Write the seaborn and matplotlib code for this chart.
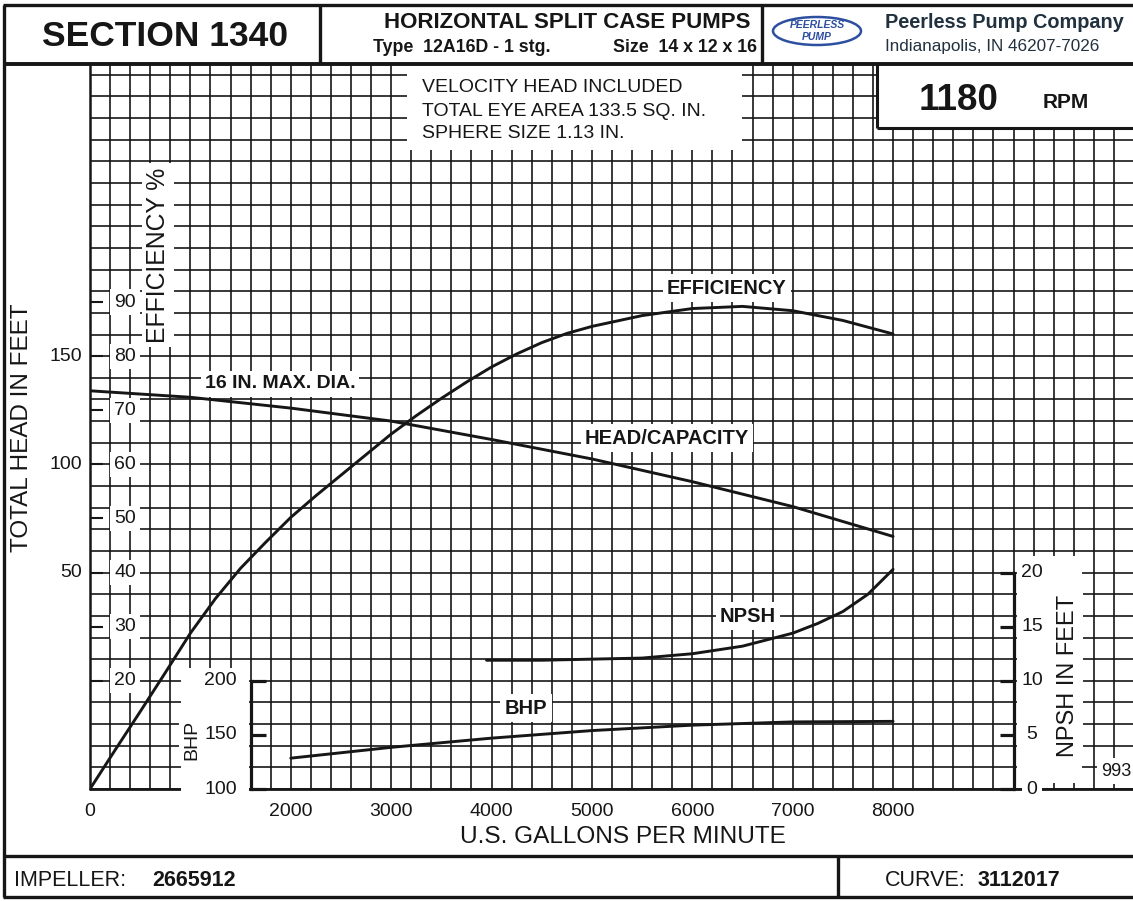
import numpy as np
import matplotlib
matplotlib.use("Agg")
import matplotlib.pyplot as plt
import seaborn as sns
from matplotlib.patches import Rectangle, Ellipse
from matplotlib.lines import Line2D
from matplotlib.transforms import blended_transform_factory as blend

# curves (U.S. gpm)
head_gpm = [0, 1000, 2000, 3000, 4000, 5000, 6000, 7000, 8000]
head_ft = [134, 131, 126, 120, 111.5, 102.5, 92, 80.5, 66.7]

eff_gpm = [0, 250, 500, 750, 1000, 1250, 1500, 1750, 2000, 2250, 2500, 2750,
           3000, 3250, 3500, 3750, 4000, 4250, 4500, 4750, 5000, 5500, 6000,
           6500, 7000, 7500, 8000]
eff_pct = [0, 7.2, 14.3, 21.5, 28.8, 35.2, 40.8, 45.6, 50.2, 54.2, 58, 61.8,
           65.6, 69, 72.2, 75.2, 78, 80.4, 82.5, 84.2, 85.5, 87.5, 88.8,
           89.2, 88.4, 86.6, 84.1]

npsh_gpm = [3950, 4500, 5000, 5500, 6000, 6500, 7000, 7250, 7500, 7750, 8000]
npsh_ft = [11.9, 11.9, 12.0, 12.1, 12.5, 13.2, 14.4, 15.3, 16.4, 18.0, 20.3]

bhp_gpm = [2000, 3000, 4000, 5000, 6000, 7000, 8000]
bhp_hp = [128.5, 138.5, 147, 154, 159, 162, 162.5]

# axis labels
gpm_ticks = [0, 2000, 3000, 4000, 5000, 6000, 7000, 8000]
head_ticks = [50, 100, 150]
eff_ticks = [20, 30, 40, 50, 60, 70, 80, 90]
npsh_ticks = [0, 5, 10, 15, 20]
bhp_ticks = [100, 150, 200]

sns.set_style("white")
plt.rcParams["font.family"] = ["Liberation Sans", "DejaVu Sans"]
INK = "#161616"

W, H = 1133, 901
fig = plt.figure(figsize=(W / 100, H / 100), dpi=100)
fig.patch.set_facecolor("white")


def fx(x):
    return x / W


def fy(y):
    return 1 - y / H


# grid area in pixels
X0, X1, Y0, Y1 = 90, 1133, 64, 789
ax = fig.add_axes([fx(X0), fy(Y1), (X1 - X0) / W, (Y1 - Y0) / H])
ax_b = ax.twinx()
ax_n = ax.twinx()
ax_e = ax.twinx()

sns.lineplot(x=head_gpm, y=head_ft, ax=ax, color=INK, lw=2.1, zorder=4)
sns.lineplot(x=eff_gpm, y=eff_pct, ax=ax_e, color=INK, lw=2.1)
sns.lineplot(x=npsh_gpm, y=npsh_ft, ax=ax_n, color=INK, lw=2.1)
sns.lineplot(x=bhp_gpm, y=bhp_hp, ax=ax_b, color=INK, lw=2.1)

# all scales share one sheet: head -50..285 ft
HLO, HHI = -50, 285
ax.set_xlim(0, 10390)
ax.set_ylim(HLO, HHI)
ax_e.set_ylim((HLO + 50) / 2.5, (HHI + 50) / 2.5)
ax_n.set_ylim((HLO + 50) / 5, (HHI + 50) / 5)
ax_b.set_ylim(100 + 2 * (HLO + 50), 100 + 2 * (HHI + 50))

ax.set_xticks(np.arange(0, 10391, 200))
ax.set_yticks(np.arange(-50, 286, 10))
ax.grid(True, color=INK, lw=1.2)
ax.set_axisbelow(True)
ax.tick_params(length=0, labelbottom=False, labelleft=False)
for s in ax.spines.values():
    s.set_visible(False)
ax.axhline(-50, color=INK, lw=2.0, zorder=0.7, clip_on=False)
ax.axvline(0, color=INK, lw=1.8, zorder=0.7, clip_on=False)

for a in (ax, ax_e, ax_n, ax_b):
    a.set_xlabel("")
    a.set_ylabel("")
for a in (ax_e, ax_n, ax_b):
    for s in a.spines.values():
        s.set_visible(False)
    a.tick_params(axis="x", bottom=False, top=False, labelbottom=False, labeltop=False)

# efficiency ticks on the left edge
ax_e.yaxis.set_ticks_position("left")
ax_e.set_yticks(eff_ticks)
ax_e.tick_params(axis="y", left=True, right=False, direction="in", length=9,
                 width=1.5, color=INK, labelleft=False, labelright=False)

# NPSH axis
ax_n.spines["right"].set_visible(True)
ax_n.spines["right"].set_position(("data", 9200))
ax_n.spines["right"].set_bounds(0, 20)
ax_n.spines["right"].set_linewidth(2.3)
ax_n.spines["right"].set_color(INK)
ax_n.yaxis.set_ticks_position("right")
ax_n.set_yticks(npsh_ticks)
ax_n.tick_params(axis="y", right=True, left=False, direction="in", length=10,
                 width=2.3, color=INK, labelleft=False, labelright=False)

# BHP axis
ax_b.spines["left"].set_visible(True)
ax_b.spines["left"].set_position(("data", 1600))
ax_b.spines["left"].set_bounds(100, 200)
ax_b.spines["left"].set_linewidth(2.3)
ax_b.spines["left"].set_color(INK)
ax_b.yaxis.set_ticks_position("left")
ax_b.set_yticks(bhp_ticks)
ax_b.tick_params(axis="y", left=True, right=False, direction="in", length=11,
                 width=2.3, color=INK, labelleft=False, labelright=False)


def blank(x0, y0, x1, y1):
    ax.add_patch(Rectangle((fx(x0), fy(y1)), (x1 - x0) / W, (y1 - y0) / H,
                           transform=fig.transFigure, fc="white", ec="none",
                           zorder=1, clip_on=False))


blank(407, 64, 742, 150)     # notes box
blank(877, 64, 1133, 128)    # rpm box
blank(181, 668, 249, 791)    # bhp scale
blank(1017, 556, 1082, 783)  # npsh scale

WB = dict(fc="white", ec="none", pad=3)


def note(x, y, s, size, weight="normal", rot=0, ha="center", box=True):
    ax.text(fx(x), fy(y), s, transform=fig.transFigure, fontsize=size,
            fontweight=weight, rotation=rot, ha=ha, va="center", color=INK,
            bbox=WB if box else None, zorder=3, clip_on=False)


# scale labels
for v in eff_ticks:
    ax.text(fx(125), v, str(v), transform=blend(fig.transFigure, ax_e.transData),
            fontsize=14, ha="center", va="center", color=INK, bbox=WB, zorder=3)
for v in head_ticks:
    ax.text(fx(82), v, str(v), transform=blend(fig.transFigure, ax.transData),
            fontsize=14, ha="right", va="center", color=INK, zorder=3, clip_on=False)
for v in gpm_ticks:
    ax.text(v, fy(812), str(v), transform=blend(ax.transData, fig.transFigure),
            fontsize=14, ha="center", va="center", color=INK, zorder=3, clip_on=False)
for v in bhp_ticks:
    ax.text(fx(237), v, str(v), transform=blend(fig.transFigure, ax_b.transData),
            fontsize=14, ha="right", va="center", color=INK, bbox=WB, zorder=3)
for v in npsh_ticks:
    ax.text(fx(1032), v, str(v), transform=blend(fig.transFigure, ax_n.transData),
            fontsize=14, ha="center", va="center", color=INK, bbox=WB, zorder=3)

note(158, 255, "EFFICIENCY %", 17.8, rot=90)
note(22, 428, "TOTAL HEAD IN FEET", 17.5, rot=90, box=False)
note(623, 837, "U.S. GALLONS PER MINUTE", 17.6, box=False)
note(192, 740, "BHP", 14, rot=90)
note(1068, 676, "NPSH IN FEET", 17, rot=90)
note(1116, 771, "993", 13)

note(280, 384, "16 IN. MAX. DIA.", 14, "bold")
note(727, 288, "EFFICIENCY", 14.5, "bold")
note(667, 438, "HEAD/CAPACITY", 14.5, "bold")
note(748, 616, "NPSH", 14.5, "bold")
note(526, 708, "BHP", 14.5, "bold")

note(422, 88, "VELOCITY HEAD INCLUDED", 14, ha="left", box=False)
note(422, 111, "TOTAL EYE AREA 133.5 SQ. IN.", 14, ha="left", box=False)
note(422, 133, "SPHERE SIZE 1.13 IN.", 14, ha="left", box=False)
note(959, 100, "1180", 26.5, "bold", box=False)
note(1066, 103, "RPM", 15, "bold", box=False)


def rule(x0, y0, x1, y1, lw=2.4):
    fig.add_artist(Line2D([fx(x0), fx(x1)], [fy(y0), fy(y1)], transform=fig.transFigure,
                          color=INK, lw=lw, solid_capstyle="butt"))


# sheet frame
rule(3, 5, 1133, 5)
rule(4, 5, 4, 897)
rule(3, 64, 1133, 64, 2.8)
rule(320, 5, 320, 64)
rule(762, 5, 762, 64)
rule(3, 856, 1133, 856)
rule(3, 897, 1133, 897)
rule(838, 856, 838, 897)
rule(877, 64, 877, 128, 2.2)
rule(877, 128, 1133, 128, 2.2)

# header
fig.text(fx(165), fy(37), "SECTION 1340", fontsize=25.5, fontweight="bold",
         ha="center", va="center", color=INK)
fig.text(fx(567), fy(22), "HORIZONTAL SPLIT CASE PUMPS", fontsize=16, fontweight="bold",
         ha="center", va="center", color=INK)
fig.text(fx(373), fy(47), "Type  12A16D - 1 stg.", fontsize=12.8, fontweight="bold",
         ha="left", va="center", color=INK)
fig.text(fx(757), fy(47), "Size  14 x 12 x 16", fontsize=12.8, fontweight="bold",
         ha="right", va="center", color=INK)
fig.add_artist(Ellipse((fx(817), fy(31)), 88 / W, 28 / H, transform=fig.transFigure,
                       fill=False, ec="#2d4fa0", lw=1.8))
fig.text(fx(817), fy(25), "PEERLESS", fontsize=7.5, fontweight="bold", fontstyle="italic",
         ha="center", va="center", color="#2d4fa0")
fig.text(fx(817), fy(37), "PUMP", fontsize=7.5, fontweight="bold", fontstyle="italic",
         ha="center", va="center", color="#2d4fa0")
fig.text(fx(885), fy(22), "Peerless Pump Company", fontsize=14.3, fontweight="bold",
         ha="left", va="center", color="#22313f")
fig.text(fx(885), fy(46), "Indianapolis, IN 46207-7026", fontsize=12.3,
         ha="left", va="center", color="#22313f")

# footer
fig.text(fx(14), fy(880), "IMPELLER:", fontsize=15.5, ha="left", va="center", color=INK)
fig.text(fx(152), fy(880), "2665912", fontsize=15.5, fontweight="bold",
         ha="left", va="center", color=INK)
fig.text(fx(885), fy(880), "CURVE:", fontsize=15.5, ha="left", va="center", color=INK)
fig.text(fx(978), fy(880), "3112017", fontsize=15.5, fontweight="bold",
         ha="left", va="center", color=INK)

fig.savefig("out.png", dpi=100, facecolor="white")
